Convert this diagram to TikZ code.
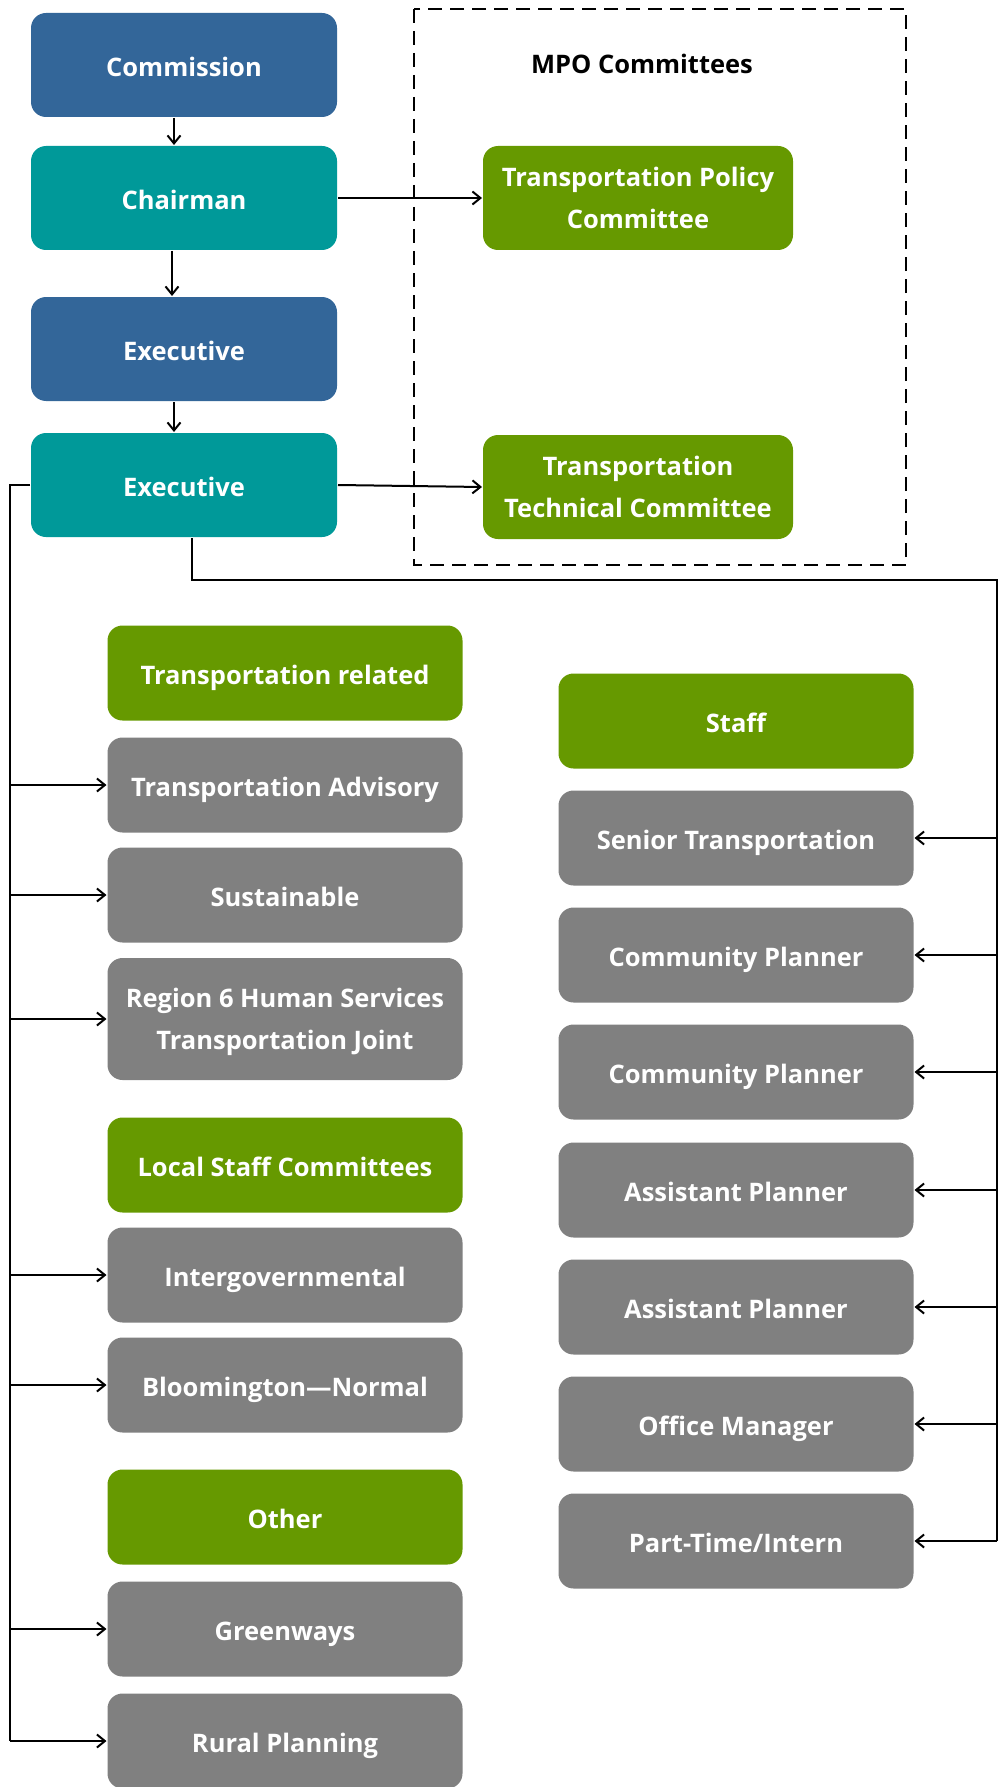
\documentclass[tikz,border=0pt]{standalone}
\usepackage{fontspec}
\setmainfont{Open Sans}
\usepackage{xcolor}
\usetikzlibrary{
arrows.meta,
positioning,
scopes
}
\definecolor{boardblue}{HTML}{336699}
\definecolor{chairteal}{HTML}{009999}
\definecolor{groupgreen}{HTML}{669900}
\definecolor{staffgrey}{HTML}{808080}

\begin{document}
\begin{tikzpicture}[
    x=1pt, y=-1pt,
    >={Straight Barb[length=8pt,width=13pt]},
    line width=2pt,
    every edge/.style={draw, ->},
    box/.style={rounded corners=15pt, text=white, align=center,
      font=\bfseries\fontsize{25.5}{42}\selectfont, inner sep=0pt},
    oneline/.style={text height=29pt, text depth=6pt},
    top/.style={box, oneline, minimum width=306pt, minimum height=104pt},
    mpo/.style={box, fill=groupgreen, minimum width=310pt, minimum height=104pt},
    head/.style={box, oneline, fill=groupgreen, minimum width=355pt, minimum height=95pt},
    item/.style={box, oneline, fill=staffgrey, minimum width=355pt, minimum height=95pt}]
  \useasboundingbox (0,0) rectangle (1004,1787);
  % top chain
  \node[top, fill=boardblue] (comm) at (184,65) {Commission};
  \node[top, fill=chairteal] (chair) at (184,198) {Chairman};
  \node[top, fill=boardblue] (exec1) at (184,349) {Executive};
  \node[top, fill=chairteal] (exec2) at (184,485) {Executive};
  % MPO committees
  \draw[dash pattern=on 14pt off 8pt] (414,9) rectangle (906,565);
  \node[font=\bfseries\fontsize{25.5}{32}\selectfont] (mpotitle) at (642,64) {MPO Committees};
  \node[mpo] (policy) at (638,198) {Transportation Policy\\Committee};
  \node[mpo] (tech) at (638,487) {Transportation\\Technical Committee};
  % left column
  \node[head] (trel) at (285,673) {Transportation related};
  \node[item] (tadv) at (285,785) {Transportation Advisory};
  \node[item] (sust) at (285,895) {Sustainable};
  \node[item, text height=, text depth=-3pt, minimum height=122pt] (reg6) at (285,1019) {Region 6 Human Services\\Transportation Joint};
  \node[head] (local) at (285,1165) {Local Staff Committees};
  \node[item] (inter) at (285,1275) {Intergovernmental};
  \node[item] (bn) at (285,1385) {Bloomington---Normal};
  \node[head] (other) at (285,1517) {Other};
  \node[item] (green) at (285,1629) {Greenways};
  \node[item] (rural) at (285,1741) {Rural Planning};
  % right column
  \node[head] (staff) at (736,721) {Staff};
  \node[item] (senior) at (736,838) {Senior Transportation};
  \node[item] (comm1) at (736,955) {Community Planner};
  \node[item] (comm2) at (736,1072) {Community Planner};
  \node[item] (asst1) at (736,1190) {Assistant Planner};
  \node[item] (asst2) at (736,1307) {Assistant Planner};
  \node[item] (office) at (736,1424) {Office Manager};
  \node[item] (part) at (736,1541) {Part-Time/Intern};
  \coordinate (lbus) at (10,486);
  \coordinate (rbus) at (997,580);
  \path
      ([xshift=-10pt]comm.south) edge ([xshift=-10pt]comm.south |- chair.north)
      ([xshift=-12pt]chair.south) edge ([xshift=-12pt]chair.south |- exec1.north)
      ([xshift=-10pt]exec1.south) edge ([xshift=-10pt]exec1.south |- exec2.north)
      (chair.east) edge (policy.west)
      (exec2.east) edge (tech.west);
  \draw (exec2.west) -| (lbus |- rural.west);
  \draw ([xshift=8pt]exec2.south) |- (rbus) -- (rbus |- part.east);
  \path
      (lbus |- tadv.west) edge (tadv.west)
      (lbus |- sust.west) edge (sust.west)
      (lbus |- reg6.west) edge (reg6.west)
      (lbus |- inter.west) edge (inter.west)
      (lbus |- bn.west) edge (bn.west)
      (lbus |- green.west) edge (green.west)
      (lbus |- rural.west) edge (rural.west);
  \path
      (rbus |- senior.east) edge (senior.east)
      (rbus |- comm1.east) edge (comm1.east)
      (rbus |- comm2.east) edge (comm2.east)
      (rbus |- asst1.east) edge (asst1.east)
      (rbus |- asst2.east) edge (asst2.east)
      (rbus |- office.east) edge (office.east)
      (rbus |- part.east) edge (part.east);
\end{tikzpicture}
\end{document}
